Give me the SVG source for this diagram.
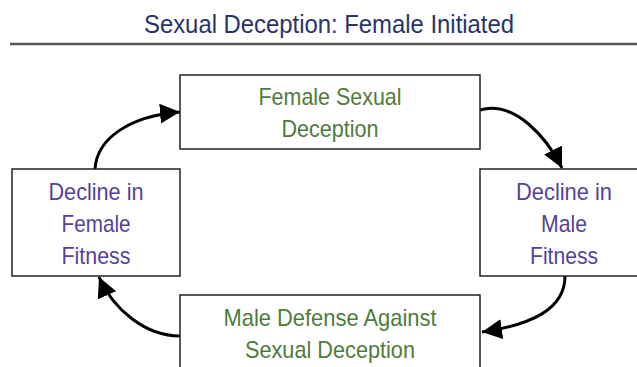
<svg xmlns="http://www.w3.org/2000/svg" width="637" height="367" viewBox="0 0 637 367">
<style>
.box{fill:#fff;stroke:#222;stroke-width:1.5}
.t{font-family:"Liberation Sans",Arial,sans-serif;font-size:24px;text-anchor:middle}
.g{fill:#4f7b3b}
.p{fill:#573f9c}
.title{font-family:"Liberation Sans",Arial,sans-serif;font-size:26px;fill:#29346b;text-anchor:middle}
.c{fill:none;stroke:#000;stroke-width:3}
</style>
<defs>
<marker id="ah" markerUnits="userSpaceOnUse" markerWidth="22" markerHeight="22" refX="20" refY="10" orient="auto" viewBox="0 0 22 22">
<path d="M0,0 L20,10 L0,20 z" fill="#000"/>
</marker>
</defs>
<g id="title">
<text class="title" x="329" y="33" textLength="370" lengthAdjust="spacingAndGlyphs">Sexual Deception: Female Initiated</text>
<line x1="10" y1="44" x2="637" y2="44" stroke="#555" stroke-width="2.5"/>
</g>
<g id="connectors">
<path class="c" d="M95,169 C97,138 130,116 180,112" marker-end="url(#ah)"/>
<path class="c" d="M480,110 C515,100 547,138 562,168" marker-end="url(#ah)"/>
<path class="c" d="M565,276 C565,310 530,325 482,332" marker-end="url(#ah)"/>
<path class="c" d="M180,336 C145,336 113,309 99,277" marker-end="url(#ah)"/>
</g>
<g id="node-female-deception">
<rect class="box" x="180" y="75" width="300" height="74"/>
<text class="t g" x="330" y="105" textLength="143" lengthAdjust="spacingAndGlyphs">Female Sexual</text>
<text class="t g" x="330" y="137" textLength="97" lengthAdjust="spacingAndGlyphs">Deception</text>
</g>
<g id="node-male-fitness">
<rect class="box" x="480" y="169" width="168" height="107"/>
<text class="t p" x="564" y="200" textLength="96" lengthAdjust="spacingAndGlyphs">Decline in</text>
<text class="t p" x="564" y="232" textLength="46" lengthAdjust="spacingAndGlyphs">Male</text>
<text class="t p" x="564" y="264" textLength="68" lengthAdjust="spacingAndGlyphs">Fitness</text>
</g>
<g id="node-male-defense">
<rect class="box" x="180" y="295" width="300" height="74"/>
<text class="t g" x="330" y="326" textLength="213" lengthAdjust="spacingAndGlyphs">Male Defense Against</text>
<text class="t g" x="330" y="358" textLength="170" lengthAdjust="spacingAndGlyphs">Sexual Deception</text>
</g>
<g id="node-female-fitness">
<rect class="box" x="12" y="169" width="168" height="107"/>
<text class="t p" x="96" y="200" textLength="95" lengthAdjust="spacingAndGlyphs">Decline in</text>
<text class="t p" x="96" y="232" textLength="69" lengthAdjust="spacingAndGlyphs">Female</text>
<text class="t p" x="96" y="264" textLength="69" lengthAdjust="spacingAndGlyphs">Fitness</text>
</g>
</svg>
